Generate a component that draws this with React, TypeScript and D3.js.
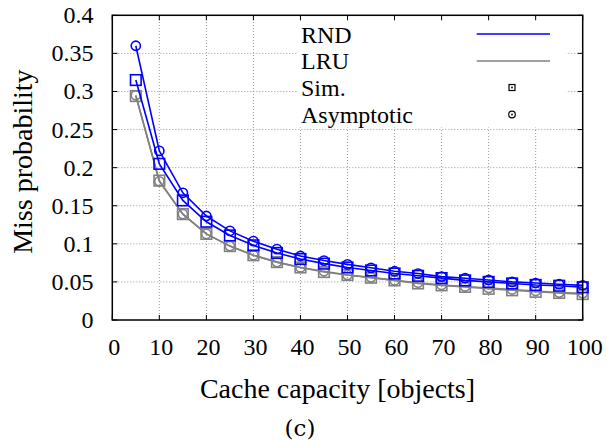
import * as d3 from "d3";

// cache capacity (objects)
const capacity = [5, 10, 15, 20, 25, 30, 35, 40, 45, 50, 55, 60, 65, 70, 75, 80, 85, 90, 95, 100];

// miss probabilities
const rndSim = [0.315, 0.205, 0.157, 0.129, 0.111, 0.098, 0.088, 0.08, 0.074, 0.069, 0.065, 0.061, 0.058, 0.055, 0.052, 0.05, 0.048, 0.046, 0.045, 0.043];
const rndAsym = [0.36, 0.222, 0.167, 0.1365, 0.117, 0.1035, 0.093, 0.084, 0.078, 0.073, 0.0685, 0.064, 0.061, 0.057, 0.0548, 0.0525, 0.05, 0.0485, 0.047, 0.0455];
const lruSim = [0.294, 0.183, 0.139, 0.113, 0.097, 0.085, 0.076, 0.069, 0.063, 0.059, 0.0555, 0.052, 0.048, 0.0455, 0.0435, 0.041, 0.039, 0.037, 0.0355, 0.034];
const lruAsym = [0.295, 0.182, 0.139, 0.113, 0.097, 0.085, 0.076, 0.069, 0.064, 0.059, 0.056, 0.052, 0.049, 0.046, 0.044, 0.042, 0.04, 0.038, 0.036, 0.035];

const xTicks = [0, 10, 20, 30, 40, 50, 60, 70, 80, 90, 100];
const yTicks = [0, 0.05, 0.1, 0.15, 0.2, 0.25, 0.3, 0.35, 0.4];

const BLUE = "#0000ff";
const GRAY = "#808080";
const FONT = '"Liberation Serif", "Times New Roman", Times, serif';

const series = [
    { name: "lruSim", values: lruSim, color: GRAY, marker: "square" },
    { name: "lruAsym", values: lruAsym, color: GRAY, marker: "circle" },
    { name: "rndSim", values: rndSim, color: BLUE, marker: "square" },
    { name: "rndAsym", values: rndAsym, color: BLUE, marker: "circle" },
];

export default function App() {
    const W = 607;
    const H = 440;
    const x = d3.scaleLinear().domain([0, 100]).range([112.3, 582.7]);
    const y = d3.scaleLinear().domain([0, 0.4]).range([320, 15.3]);
    const [x0, x1] = x.range();
    const [yb, yt] = y.range();

    const line = d3
        .line<number>()
        .x((_, i) => x(capacity[i]))
        .y((d) => y(d));

    const tick = 5;
    const fmtY = (v: number) => String(+v.toFixed(2));
    const txt = { fontFamily: FONT };

    // legend
    const lx = 301;
    const rows = [42.5, 69.3, 96, 123];

    return (
        <svg
            width={W}
            height={H}
            style={{ position: "absolute", left: 0, top: 0, background: "#fff", fontFamily: FONT }}
        >
            <rect x={0} y={0} width={W} height={H} fill="#fff" />

            {/* grid */}
            <g stroke="#999" strokeWidth={1} strokeDasharray="1,2">
                {xTicks.slice(1, -1).map((t) => (
                    <line key={"gx" + t} x1={x(t)} x2={x(t)} y1={yb} y2={yt} />
                ))}
                {yTicks.slice(1, -1).map((t) => (
                    <line key={"gy" + t} x1={x0} x2={x1} y1={y(t)} y2={y(t)} />
                ))}
            </g>

            {/* opaque key box */}
            <rect x={298} y={16.5} width={268} height={111} fill="#fff" />

            {/* ticks, inward on all sides */}
            <g stroke="#000" strokeWidth={1}>
                {xTicks.map((t) => (
                    <g key={"tx" + t}>
                        <line x1={x(t)} x2={x(t)} y1={yb} y2={yb - tick} />
                        <line x1={x(t)} x2={x(t)} y1={yt} y2={yt + tick} />
                    </g>
                ))}
                {yTicks.map((t) => (
                    <g key={"ty" + t}>
                        <line x1={x0} x2={x0 + tick} y1={y(t)} y2={y(t)} />
                        <line x1={x1} x2={x1 - tick} y1={y(t)} y2={y(t)} />
                    </g>
                ))}
            </g>

            {/* legend */}
            <g fontSize={24} fill="#000" style={txt}>
                <text x={lx} y={rows[0]}>RND</text>
                <text x={lx} y={rows[1]}>LRU</text>
                <text x={lx} y={rows[2]}>Sim.</text>
                <text x={lx} y={rows[3]}>Asymptotic</text>
            </g>
            <line x1={476.7} x2={550} y1={rows[0] - 8.5} y2={rows[0] - 8.5} stroke={BLUE} strokeWidth={1.5} />
            <line x1={476.7} x2={550} y1={rows[1] - 8.3} y2={rows[1] - 8.3} stroke={GRAY} strokeWidth={1.5} />
            <rect x={509} y={rows[2] - 11.5} width={6} height={6} fill="none" stroke="#000" strokeWidth={1.2} />
            <circle cx={512} cy={rows[2] - 8.5} r={0.9} fill="#000" />
            <circle cx={512} cy={rows[3] - 8.5} r={3.3} fill="none" stroke="#000" strokeWidth={1.2} />
            <circle cx={512} cy={rows[3] - 8.5} r={0.9} fill="#000" />

            {/* data */}
            {series.map((s) => (
                <g key={s.name}>
                    <path d={line(s.values) ?? ""} fill="none" stroke={s.color} strokeWidth={1.6} />
                    {s.values.map((v, i) =>
                        s.marker === "square" ? (
                            <rect
                                key={i}
                                x={x(capacity[i]) - 5.3}
                                y={y(v) - 5.3}
                                width={10.6}
                                height={10.6}
                                fill="none"
                                stroke={s.color}
                                strokeWidth={1.6}
                            />
                        ) : (
                            <circle
                                key={i}
                                cx={x(capacity[i])}
                                cy={y(v)}
                                r={4.6}
                                fill="none"
                                stroke={s.color}
                                strokeWidth={1.6}
                            />
                        ),
                    )}
                </g>
            ))}

            {/* frame */}
            <rect x={x0} y={yt} width={x1 - x0} height={yb - yt} fill="none" stroke="#000" strokeWidth={1.5} />

            {/* tick labels */}
            <g fontSize={24} fill="#000" style={txt}>
                {xTicks.map((t) => (
                    <text key={"lx" + t} x={x(t) + 2} y={355} textAnchor="middle">
                        {t}
                    </text>
                ))}
                {yTicks.map((t) => (
                    <text key={"ly" + t} x={93.5} y={y(t) + 8} textAnchor="end">
                        {fmtY(t)}
                    </text>
                ))}
            </g>

            {/* axis titles */}
            <text x={337.5} y={398} fontSize={28} textAnchor="middle" style={txt}>
                Cache capacity [objects]
            </text>
            <text
                transform={`translate(32,${(yb + yt) / 2 - 6}) rotate(-90)`}
                fontSize={28}
                textAnchor="middle"
                style={txt}
            >
                Miss probability
            </text>
            <text x={300} y={436} fontSize={23} textAnchor="middle" style={{ fontFamily: '"DejaVu Serif", serif' }}>
                (c)
            </text>
        </svg>
    );
}
